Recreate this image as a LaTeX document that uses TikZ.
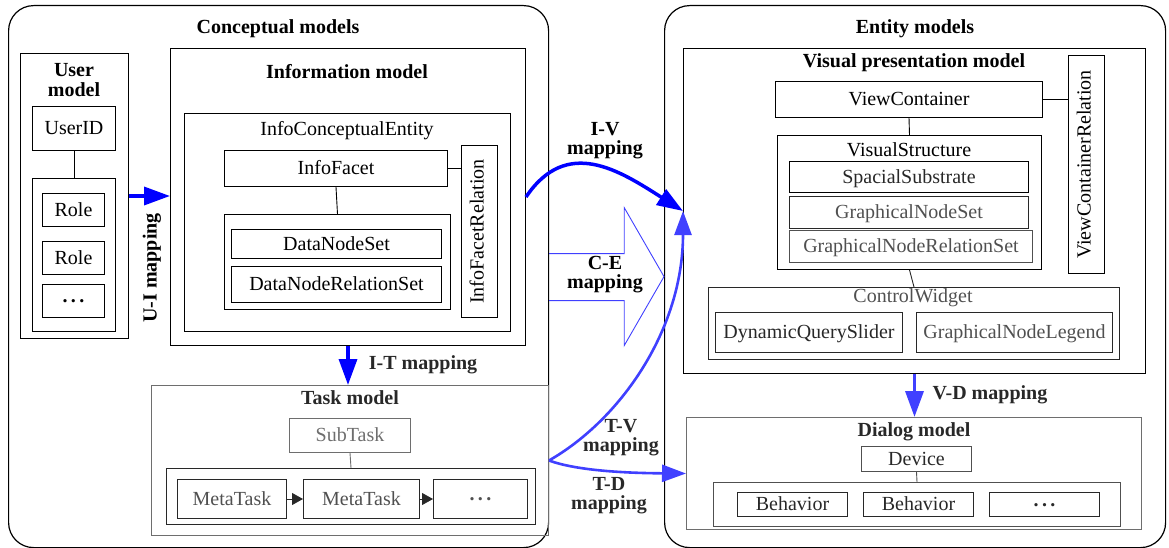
\documentclass[tikz,border=0pt]{standalone}
\usepackage{fontspec}
\setmainfont{Liberation Serif}
\usetikzlibrary{arrows.meta}
\definecolor{blueA}{RGB}{0,0,255}
\definecolor{blueB}{RGB}{64,64,255}
\definecolor{gA}{RGB}{40,40,40}
\definecolor{gB}{RGB}{80,80,80}
\definecolor{gC}{RGB}{110,110,110}
\newcommand\mydots{\raisebox{0.22em}{\textbf{.\,.\,.}}}
\begin{document}
\begin{tikzpicture}[x=1pt,y=-1pt,
  every node/.style={font=\fontsize{20}{20}\selectfont},
  bx/.style={draw, line width=1pt, inner sep=0pt, anchor=north west, text height=14pt, text depth=2pt},
  bxr/.style={draw, line width=1pt, inner sep=0pt, anchor=center, rotate=90, text height=13.5pt, text depth=4.5pt},
  outer/.style={draw, line width=1.2pt, rounded corners=25pt, inner sep=0pt, anchor=north west},
  ttl/.style={font=\fontsize{20}{20}\selectfont\bfseries, inner sep=0pt, align=center},
  lbl/.style={inner sep=0pt},
  ml/.style={font=\fontsize{20}{19}\selectfont\bfseries, inner sep=0pt, align=center},
  link/.style={draw, line width=0.9pt},
  bigA/.style={draw=blueA, line width=3.5pt, -{Triangle[length=26pt,width=18pt]}},
  bigB/.style={draw=blueB, line width=3.5pt, -{Triangle[length=26pt,width=18pt]}},
  curB/.style={draw=blueB, line width=2.6pt, -{Triangle[length=24pt,width=17pt]}},
  garr/.style={draw=gA, line width=0.8pt, -{Triangle[length=11pt,width=12pt]}}
]
\useasboundingbox (0,0) rectangle (1169,548);

% ---------------- Conceptual models ----------------
\node[outer, minimum width=540pt, minimum height=542pt] (conc) at (8,5) {};
\node[ttl] (concT) at (278,29) {Conceptual models};

\node[bx, minimum width=108pt, minimum height=285pt] (user) at (20,53) {};
\node[ttl] (userT) at (74,80) {User\\model};
\node[bx, minimum width=83pt, minimum height=44pt] (uid) at (32,106) {UserID};
\node[bx, minimum width=83pt, minimum height=153pt] (roles) at (32,178) {};
\node[bx, minimum width=62pt, minimum height=33pt] (role1) at (42,193) {Role};
\node[bx, minimum width=62pt, minimum height=33pt] (role2) at (42,241) {Role};
\node[bx, minimum width=62pt, minimum height=33pt] (role3) at (42,284) {\mydots};
\draw[link] (uid.south) -- (roles.north);

\node[bx, minimum width=355pt, minimum height=297pt] (info) at (170,48) {};
\node[ttl] (infoT) at (347,72) {Information model};
\node[bx, minimum width=326pt, minimum height=218pt] (ice) at (184,113) {};
\node[lbl] (iceT) at (347,131) {InfoConceptualEntity};
\node[bx, minimum width=223pt, minimum height=36pt] (facet) at (224,150) {InfoFacet};
\node[bxr, minimum width=171pt, minimum height=36pt] (ifr) at (479,231.5) {InfoFacetRelation};
\node[bx, minimum width=226pt, minimum height=95pt] (dnc) at (224,214) {};
\node[bx, minimum width=210pt, minimum height=29pt] (dns) at (231,229) {DataNodeSet};
\node[bx, minimum width=210pt, minimum height=36pt] (dnrs) at (231,266) {DataNodeRelationSet};
\draw[link] (facet.east) -- (facet.east -| ifr.north);
\draw[link] (facet.south) -- (dnc.north);

\node[bx, draw=gC, minimum width=397pt, minimum height=150pt] (task) at (151,385) {};
\node[ttl, text=gA] (taskT) at (350,398) {Task model};
\node[bx, draw=gC, text=gC, minimum width=121pt, minimum height=34pt] (sub) at (289,418) {SubTask};
\node[bx, draw=gA, minimum width=369pt, minimum height=56pt] (mtc) at (166,468) {};
\node[bx, draw=gA, text=gB, minimum width=109pt, minimum height=39pt] (mt1) at (177,479) {MetaTask};
\node[bx, draw=gA, text=gB, minimum width=116pt, minimum height=39pt] (mt2) at (303,479) {MetaTask};
\node[bx, draw=gA, text=gB, minimum width=94pt, minimum height=39pt] (mt3) at (433,479) {\mydots};
\draw[link, draw=gC] (sub.south) -- (mtc.north);
\draw[garr] (mt1.east) -- (mt2.west);
\draw[garr] (mt2.east) -- (mt3.west);

% ---------------- Entity models ----------------
\node[outer, minimum width=501pt, minimum height=542pt] (ent) at (664,5) {};
\node[ttl] (entT) at (915,29) {Entity models};

\node[bx, minimum width=462pt, minimum height=325pt] (vis) at (683,48) {};
\node[ttl] (visT) at (914,63) {Visual presentation model};
\node[bx, minimum width=267pt, minimum height=36pt] (vc) at (775,81) {ViewContainer};
\node[bxr, minimum width=217pt, minimum height=36pt] (vcr) at (1086,164.5) {ViewContainerRelation};
\node[bx, minimum width=264pt, minimum height=134pt] (vs) at (777,135) {};
\node[lbl] (vsT) at (909,150) {VisualStructure};
\node[bx, text=gA, minimum width=239pt, minimum height=31pt] (ss) at (789,161) {SpacialSubstrate};
\node[bx, draw=gA, text=gB, minimum width=239pt, minimum height=32pt] (gns) at (789,196) {GraphicalNodeSet};
\node[bx, draw=gB, text=gB, minimum width=243pt, minimum height=32pt] (gnrs) at (789,230) {GraphicalNodeRelationSet};
\draw[link] (vc.east) -- (vc.east -| vcr.north);
\draw[link] (vc.south) -- (vs.north);

\node[bx, draw=gA, minimum width=411pt, minimum height=72pt] (cw) at (708,287) {};
\node[lbl, text=gB] (cwT) at (913,298) {ControlWidget};
\node[bx, draw=gA, text=gA, minimum width=187pt, minimum height=40pt] (dqs) at (715,312) {DynamicQuerySlider};
\node[bx, draw=gA, text=gB, minimum width=196pt, minimum height=40pt] (gnl) at (916,312) {GraphicalNodeLegend};
\draw[link, draw=gA] (vs.south) -- (cw.north);

\node[bx, draw=gC, minimum width=455pt, minimum height=112pt] (dlg) at (686,417) {};
\node[ttl, text=gA] (dlgT) at (914,432) {Dialog model};
\node[bx, draw=gB, text=gA, minimum width=110pt, minimum height=25pt] (dev) at (861,446) {Device};
\node[bx, draw=gB, minimum width=407pt, minimum height=44pt] (beh) at (713,482) {};
\node[bx, draw=gA, text=gA, minimum width=110pt, minimum height=24pt] (b1) at (737,492) {Behavior};
\node[bx, draw=gA, text=gA, minimum width=110pt, minimum height=24pt] (b2) at (863,492) {Behavior};
\node[bx, draw=gA, text=gA, minimum width=110pt, minimum height=24pt] (b3) at (989,492) {\mydots};
\draw[link, draw=gB] (dev.south) -- (beh.north);

% ---------------- mappings ----------------
\draw[bigA] (user.east) -- (user.east -| info.west);
\node[ml, rotate=90] (uiT) at (152,268) {U-I mapping};

\draw[bigA] (info.south) -- (info.south |- task.north);
\node[ml, text=gA] (itT) at (423,365) {I-T mapping};

\draw[bigB] (vis.south) -- (vis.south |- dlg.north);
\node[ml, text=gA] (vdT) at (990,395) {V-D mapping};

\draw[draw=blueB, line width=0.9pt] ([shift={(0,-23)}]conc.east) -- ++(75,0) -- ++(0,-46) -- (ent.west)
  -- ([shift={(75,69)}]conc.east) -- ++(0,-45) -- ++(-75,0);
\node[ml] (ceT) at (605,275) {C-E\\mapping};

\draw[bigA] (info.east) .. controls (567,136) and (620,171) .. (vis.west);
\node[ml] (ivT) at (605,141) {I-V\\mapping};

\draw[curB] (task.east) .. controls (620,420) and (683,330) .. (vis.west);
\node[ml, text=gA] (tvT) at (621,438) {T-V\\mapping};

\draw[curB] (task.east) .. controls (575,470) and (620,473) .. (dlg.west);
\node[ml, text=gA] (tdT) at (609,496) {T-D\\mapping};
\end{tikzpicture}
\end{document}
